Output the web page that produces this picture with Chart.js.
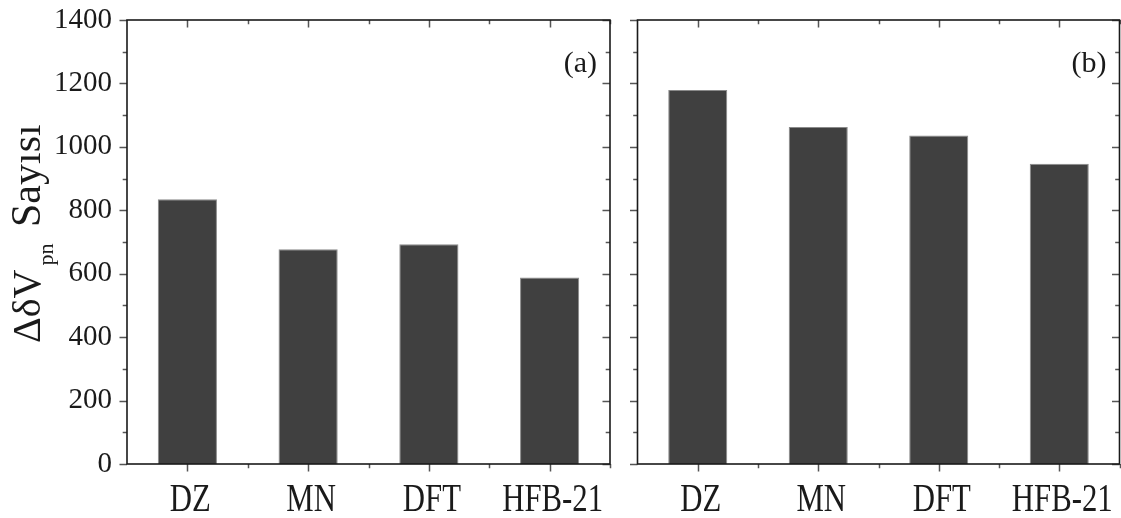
<!DOCTYPE html>
<html>
<head>
<meta charset="utf-8">
<script src="https://cdn.jsdelivr.net/npm/chart.js@4.4.1/dist/chart.umd.min.js"></script>
<style>
  html, body { margin: 0; padding: 0; background: #fff; }
  #wrap { position: relative; width: 1121px; height: 518px; overflow: hidden; }
  canvas { position: absolute; top: 0; }
  #chartA { left: 0; }
  #chartB { left: 622px; }
</style>
</head>
<body>
<div id="wrap">
  <canvas id="chartA" width="622" height="518"></canvas>
  <canvas id="chartB" width="499" height="518"></canvas>
</div>
<script>
// Mass models on the x axis of both panels
const models = ['DZ', 'MN', 'DFT', 'HFB-21'];
// Counts per model, panel (a) and panel (b)
const countsA = [835, 677, 693, 588];
const countsB = [1179, 1063, 1036, 947];
const yTicks = [0, 200, 400, 600, 800, 1000, 1200, 1400];
const yMinorStep = 100;

const SERIF = "'Liberation Serif', 'Times New Roman', serif";
const INK = '#1a1a1a';

// Frame, inner/outer tick marks, condensed category labels, panel tag and y title
const panelDecor = {
    id: 'panelDecor',
    afterDraw(chart, args, opts) {
        const { ctx, chartArea: a, scales: { x, y } } = chart;
        ctx.save();

        // tick marks: outward on left/bottom, inward on right/top
        ctx.strokeStyle = '#555';
        ctx.lineWidth = 1.5;
        ctx.beginPath();
        const yMax = yTicks[yTicks.length - 1];
        for (let v = 0; v <= yMax; v += yMinorStep) {
            const py = Math.round(y.getPixelForValue(v)) + 0.5;
            const len = yTicks.includes(v) ? 7.5 : 4.3;
            ctx.moveTo(a.left - len, py); ctx.lineTo(a.left, py);
            ctx.moveTo(a.right - len, py); ctx.lineTo(a.right, py);
        }
        const half = (x.getPixelForTick(1) - x.getPixelForTick(0)) / 2;
        models.forEach((m, i) => {
            const c = x.getPixelForTick(i);
            [[c, 7.5], [c + half, 4.3]].forEach(([px, len]) => {
                px = Math.round(px) + 0.5;
                ctx.moveTo(px, a.bottom); ctx.lineTo(px, a.bottom + len);
                ctx.moveTo(px, a.top); ctx.lineTo(px, a.top + len);
            });
        });
        ctx.stroke();

        // axis frame
        ctx.strokeStyle = INK;
        ctx.lineWidth = 1.6;
        ctx.strokeRect(a.left, a.top, a.right - a.left, a.bottom - a.top);

        // category labels, drawn narrow like the typeset originals
        ctx.fillStyle = INK;
        ctx.font = `40px ${SERIF}`;
        ctx.textAlign = 'center';
        ctx.textBaseline = 'alphabetic';
        models.forEach((m, i) => {
            ctx.save();
            ctx.translate(x.getPixelForTick(i) + 3, a.bottom + 47);
            ctx.scale(0.77, 1);
            ctx.fillText(m, 0, 0);
            ctx.restore();
        });

        // panel tag
        ctx.font = `30px ${SERIF}`;
        ctx.textAlign = 'right';
        ctx.textBaseline = 'middle';
        ctx.fillText(opts.tag, a.right - 13, a.top + 44);

        // y axis title with subscript
        if (opts.yTitle) {
            ctx.save();
            ctx.translate(40, 343);
            ctx.rotate(-Math.PI / 2);
            ctx.textAlign = 'left';
            ctx.textBaseline = 'alphabetic';
            ctx.font = `40px ${SERIF}`;
            ctx.fillText('ΔδV', 0, 0);
            const w = ctx.measureText('ΔδV').width;
            ctx.font = `22px ${SERIF}`;
            ctx.fillText('pn', w + 4, 13);
            ctx.font = `42px ${SERIF}`;
            ctx.fillText('Sayısı', 116, 0);
            ctx.restore();
        }
        ctx.restore();
    }
};

function makePanel(canvasId, counts, tag, showYLabels, padding, yWidth) {
    return new Chart(document.getElementById(canvasId).getContext('2d'), {
        type: 'bar',
        data: {
            labels: models,
            datasets: [{
                data: counts,
                backgroundColor: '#404040',
                borderColor: '#8a8a8a',
                borderWidth: 1,
                borderSkipped: 'bottom',
                barPercentage: 0.49,
                categoryPercentage: 1
            }]
        },
        options: {
            responsive: false,
            animation: false,
            layout: { padding },
            plugins: {
                legend: { display: false },
                tooltip: { enabled: false },
                panelDecor: { tag, yTitle: showYLabels }
            },
            scales: {
                x: {
                    offset: true,
                    grid: { display: false, drawTicks: false },
                    border: { display: false },
                    ticks: { display: false },
                    afterFit: s => { s.height = 54; }
                },
                y: {
                    min: 0,
                    max: yTicks[yTicks.length - 1],
                    afterBuildTicks: s => { s.ticks = yTicks.map(v => ({ value: v })); },
                    grid: { display: false, drawTicks: false },
                    border: { display: false },
                    ticks: {
                        display: showYLabels,
                        padding: 15,
                        color: INK,
                        font: { family: SERIF, size: 29 },
                        callback: v => String(v)
                    },
                    afterFit: s => {
                        s.width = yWidth;
                        // let the top label overhang the frame instead of pushing it down
                        s.paddingTop = 0;
                        s.paddingBottom = 0;
                    }
                }
            }
        },
        plugins: [panelDecor]
    });
}

makePanel('chartA', countsA, '(a)', true, { left: 0, right: 12, top: 20, bottom: 0 }, 127);
makePanel('chartB', countsB, '(b)', false, { left: 0, right: 1.5, top: 20, bottom: 0 }, 15.5);
</script>
</body>
</html>
